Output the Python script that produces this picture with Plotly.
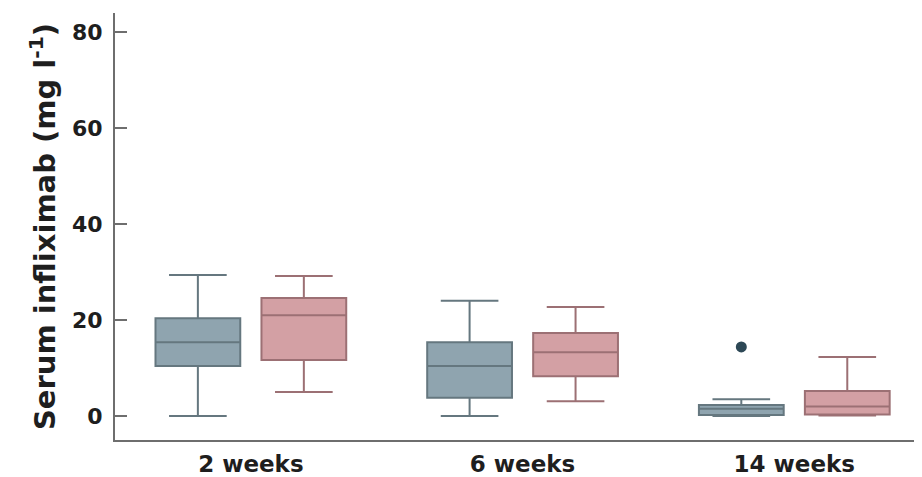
import plotly.graph_objects as go

categories = ["2 weeks", "6 weeks", "14 weeks"]

# Group A (blue)
a_low = [0.0, 0.0, 0.0]
a_q1 = [10.4, 3.8, 0.2]
a_med = [15.4, 10.4, 1.5]
a_q3 = [20.4, 15.4, 2.3]
a_high = [29.4, 24.0, 3.5]
# outlier of group A
a_out_cat = ["14 weeks"]
a_out_val = [14.4]

# Group B (red)
b_low = [5.0, 3.1, 0.1]
b_q1 = [11.7, 8.3, 0.3]
b_med = [21.0, 13.3, 2.0]
b_q3 = [24.6, 17.3, 5.2]
b_high = [29.2, 22.7, 12.3]

y_ticks = [0, 20, 40, 60, 80]

FONT = "DejaVu Sans"
TXT = "#1e1e1e"

fig = go.Figure()
fig.add_trace(go.Box(
    x=categories, q1=a_q1, median=a_med, q3=a_q3,
    lowerfence=a_low, upperfence=a_high,
    fillcolor="#8fa4af", line=dict(color="#65777f", width=2),
    whiskerwidth=0.68, name="A", offsetgroup="A", boxpoints=False,
))
# outlier point drawn as a point-only box in the same offset group
fig.add_trace(go.Box(
    x=a_out_cat, y=a_out_val, offsetgroup="A", name="A outlier",
    boxpoints="all", jitter=0, pointpos=0,
    fillcolor="rgba(0,0,0,0)", line=dict(color="rgba(0,0,0,0)", width=0),
    marker=dict(color="#2d4856", size=11),
))
fig.add_trace(go.Box(
    x=categories, q1=b_q1, median=b_med, q3=b_q3,
    lowerfence=b_low, upperfence=b_high,
    fillcolor="#d3a0a4", line=dict(color="#9c7074", width=2),
    whiskerwidth=0.68, name="B", offsetgroup="B", boxpoints=False,
))

# page body has an 8px margin; compensate so the plot sits where the reference has it
fig.update_layout(
    width=914, height=469,
    margin=dict(l=107, r=0, t=5, b=37),
    paper_bgcolor="white", plot_bgcolor="white",
    boxmode="group", boxgap=0.22, boxgroupgap=0.2,
    showlegend=False,
    font=dict(family=FONT, size=22, color=TXT),
)
fig.update_xaxes(
    type="category", range=[-0.5, 2.47], automargin=False,
    showline=True, linecolor="#6e6e6e", linewidth=2,
    ticks="", ticklabelstandoff=2,
    tickfont=dict(family=FONT, size=23, color=TXT, weight="bold"),
    showgrid=False, zeroline=False,
)
fig.update_yaxes(
    range=[-5, 84], tickvals=y_ticks, automargin=False,
    showline=True, linecolor="#6e6e6e", linewidth=2,
    ticks="inside", ticklen=12, tickcolor="#6e6e6e", tickwidth=1.5,
    ticklabelstandoff=6,
    tickfont=dict(family=FONT, size=22, color=TXT, weight="bold"),
    showgrid=False, zeroline=False,
    title=dict(text="Serum infliximab (mg l<sup>-1</sup>)", standoff=8,
               font=dict(family=FONT, size=29, color=TXT, weight="bold")),
)

fig.write_html("out.html")
